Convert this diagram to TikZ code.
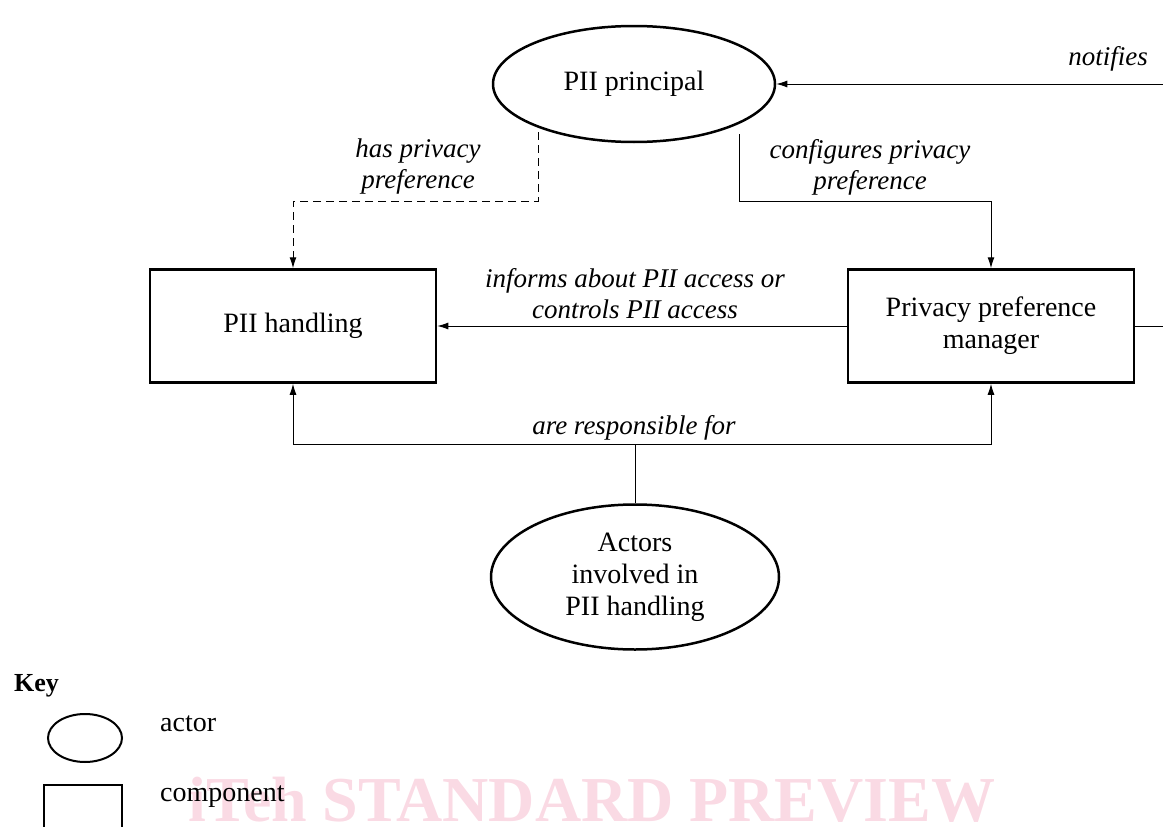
\documentclass[tikz,border=0pt]{standalone}
\usepackage{fontspec}
\setmainfont{Liberation Serif}
\usetikzlibrary{shapes.geometric,arrows.meta}
\begin{document}
\begin{tikzpicture}[x=1pt,y=-1pt,
  actor/.style={draw,line width=2.5pt,ellipse,minimum width=#1},
  comp/.style={draw,line width=2.5pt,rectangle,minimum width=286pt,minimum height=113pt,align=center,font=\fontsize{28}{32}\selectfont},
  conn/.style={line width=1pt,-{Latex[length=11pt,width=7pt]}},
  lbl/.style={font=\fontsize{27}{31}\selectfont\itshape,align=center,inner sep=0pt},
  txt/.style={font=\fontsize{28}{32}\selectfont,align=center,inner sep=0pt}]
\useasboundingbox (0,0) rectangle (1163,827);
% watermark
\node[anchor=center,text={rgb,255:red,250;green,218;blue,228},font=\fontsize{64}{66}\selectfont\bfseries,inner sep=0pt] (wm) at (592,800) {iTeh STANDARD PREVIEW};
% nodes
\node[actor=282pt,minimum height=116pt,txt] (pp) at (634,84) {PII principal};
\node[comp] (ph) at (293,326) {PII handling};
\node[comp] (pm) at (991,326) {Privacy preference\\manager};
\node[actor=288pt,minimum height=145pt,txt] (ac) at (635,577) {Actors\\involved in\\PII handling};
% coordinates
\coordinate (nright) at (1163,84);
\coordinate (mright) at (1163,326);
\coordinate (resp) at (635,444);
% connectors
\draw[conn,dashed,dash pattern=on 8pt off 5pt] (538,132) -- (538,201) -- (293,201) -- (ph.north);
\draw[conn] (739,134) -- (739,201) -- (991,201) -- (pm.north);
\draw[conn] (pm.west) -- (ph.east);
\draw[line width=1pt] (pm.east) -- (mright);
\draw[conn] (nright) -- (pp.east);
\draw[line width=1pt] (ac.north) -- (resp);
\draw[conn] (resp) -- (293,444) -- (ph.south);
\draw[conn] (resp) -- (991,444) -- (pm.south);
% labels
\node[lbl] (l1) at (418,167) {has privacy\\preference};
\node[lbl] (l2) at (870,167) {configures privacy\\preference};
\node[lbl] (l3) at (635,294) {informs about PII access or\\controls PII access};
\node[lbl,anchor=east] (l4) at (1148,59) {notifies};
\node[lbl] (l5) at (634,428) {are responsible for};
% key
\node[font=\fontsize{26}{30}\selectfont\bfseries,anchor=west,inner sep=0pt] (key) at (14,686) {Key};
\node[draw,line width=2pt,ellipse,minimum width=74pt,minimum height=48pt] (ke) at (85,738) {};
\node[txt,anchor=west] (ka) at (160,724) {actor};
\draw[line width=2pt] (44,830) -- (44,785) -- (122,785) -- (122,830);
\node[txt,anchor=west] (kc) at (160,797) {component};
\end{tikzpicture}
\end{document}
